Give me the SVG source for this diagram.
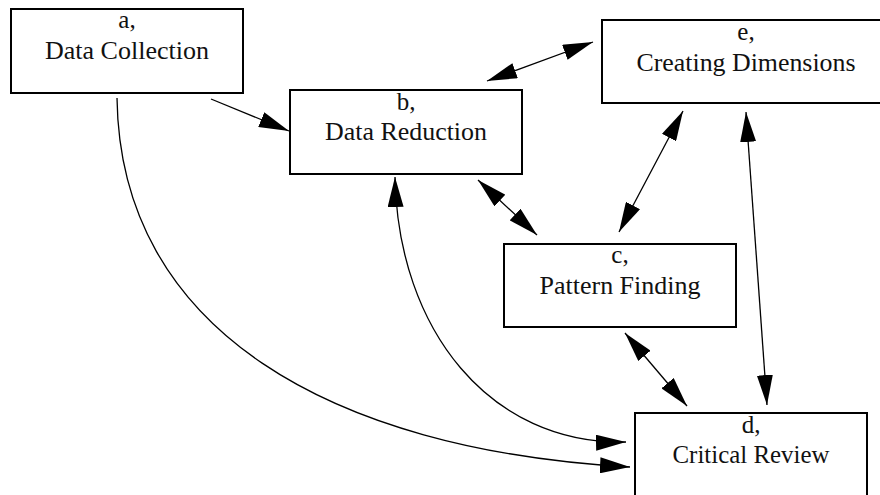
<svg xmlns="http://www.w3.org/2000/svg" width="880" height="495" viewBox="0 0 880 495">
<style>
.box{fill:#fff;stroke:#000;stroke-width:2}
.lbl{font-family:"Liberation Serif",Tinos,"DejaVu Serif","Noto Serif",serif;font-size:25px;fill:#111;text-anchor:middle}
.edge{fill:none;stroke:#000;stroke-width:1.3}
</style>
<defs>
<marker id="ah" viewBox="0 0 30 16" refX="30" refY="8" markerWidth="30" markerHeight="16" markerUnits="userSpaceOnUse" orient="auto-start-reverse">
<path d="M0,0 L30,8 L0,16 z" fill="#000"/>
</marker>
</defs>
<rect width="880" height="495" fill="#fff"/>
<g id="connectors">
<path class="edge" d="M211,99 L289,131" marker-end="url(#ah)"/>
<path class="edge" d="M117,98 C120,330 330,450 630,467" marker-end="url(#ah)"/>
<path class="edge" d="M395,177 C398,330 490,445 626,442" marker-start="url(#ah)" marker-end="url(#ah)"/>
<path class="edge" d="M487,81 L593,42" marker-start="url(#ah)" marker-end="url(#ah)"/>
<path class="edge" d="M683,111 L619,232" marker-start="url(#ah)" marker-end="url(#ah)"/>
<path class="edge" d="M746,112 L767,405" marker-start="url(#ah)" marker-end="url(#ah)"/>
<path class="edge" d="M478,180 L537,235" marker-start="url(#ah)" marker-end="url(#ah)"/>
<path class="edge" d="M625,333 L687,406" marker-start="url(#ah)" marker-end="url(#ah)"/>
</g>
<g id="node-a">
<rect class="box" x="11" y="9" width="232" height="84"/>
<text class="lbl" x="127" y="28">a,</text>
<text class="lbl" x="127" y="59" textLength="164" lengthAdjust="spacingAndGlyphs">Data Collection</text>
</g>
<g id="node-b">
<rect class="box" x="290" y="90" width="232" height="84"/>
<text class="lbl" x="406" y="110">b,</text>
<text class="lbl" x="406" y="140" textLength="162" lengthAdjust="spacingAndGlyphs">Data Reduction</text>
</g>
<g id="node-e">
<rect class="box" x="602" y="20" width="288" height="83"/>
<text class="lbl" x="746" y="40">e,</text>
<text class="lbl" x="746" y="71" textLength="219" lengthAdjust="spacingAndGlyphs">Creating Dimensions</text>
</g>
<g id="node-c">
<rect class="box" x="504" y="244" width="232" height="83"/>
<text class="lbl" x="620" y="263">c,</text>
<text class="lbl" x="620" y="294" textLength="161" lengthAdjust="spacingAndGlyphs">Pattern Finding</text>
</g>
<g id="node-d">
<rect class="box" x="635" y="413" width="232" height="84"/>
<text class="lbl" x="751" y="433">d,</text>
<text class="lbl" x="751" y="463" textLength="157" lengthAdjust="spacingAndGlyphs">Critical Review</text>
</g>
</svg>
